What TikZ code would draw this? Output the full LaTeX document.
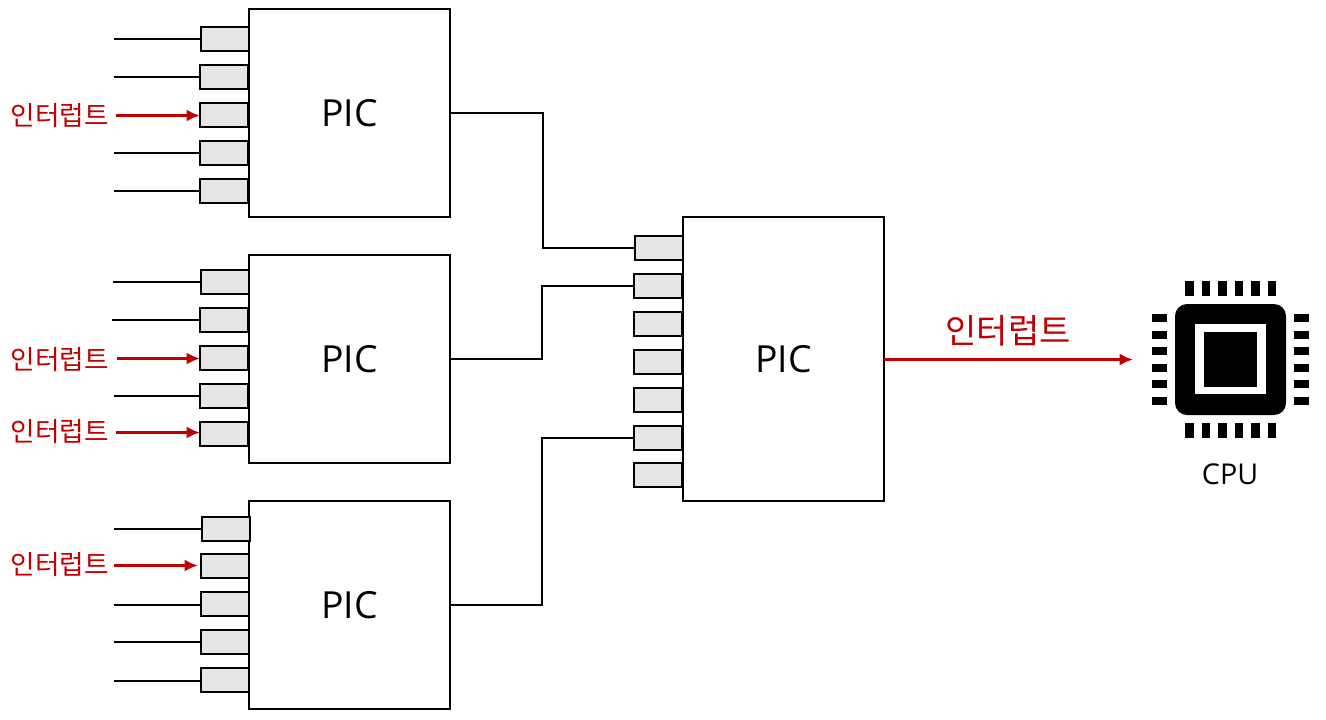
\documentclass[tikz,border=0pt]{standalone}
\usepackage{fontspec}
\setmainfont{Open Sans}
\newfontfamily\krfont{Noto Sans CJK KR}
\usepackage{xcolor}
\usetikzlibrary{arrows.meta}
\definecolor{intred}{HTML}{C00000}
\definecolor{pingray}{HTML}{E6E6E6}
\tikzset{
    picbox/.style={draw, line width=1.1pt, fill=white, minimum width=150.75pt, inner sep=0pt, outer sep=0pt, font=\fontsize{28}{32}\selectfont},
    pinbox/.style={draw, line width=1.1pt, fill=pingray, minimum width=36pt, minimum height=18pt, inner sep=0pt, outer sep=0pt},
    wire/.style={line width=1.1pt},
    intarrow/.style={intred, line width=2.2pt, -{Latex[length=10pt,width=9pt]}},
    intlabel/.style={text=intred, inner sep=0pt, font=\krfont\fontsize{20}{24}\selectfont},
}
\begin{document}
\begin{tikzpicture}[x=0.75pt, y=-0.75pt]
    \useasboundingbox (0,0) rectangle (1326,719);

    % Upper PIC
    \node[pinbox] (a1) at (225,39) {};
    \node[pinbox] (a2) at (224,77) {};
    \node[pinbox] (a3) at (224,115) {};
    \node[pinbox] (a4) at (224,153) {};
    \node[pinbox] (a5) at (224,191) {};
    \node[picbox, minimum height=156pt] (pica) at (349.5,113) {PIC};

    % Middle PIC
    \node[pinbox] (b1) at (225,282) {};
    \node[pinbox] (b2) at (224,320) {};
    \node[pinbox] (b3) at (224,358) {};
    \node[pinbox] (b4) at (224,396) {};
    \node[pinbox] (b5) at (224,434) {};
    \node[picbox, minimum height=156pt] (picb) at (349.5,359) {PIC};

    % Lower PIC
    \node[picbox, minimum height=156pt] (picc) at (349.5,605) {PIC};
    \node[pinbox] (c1) at (226,529) {};
    \node[pinbox] (c2) at (225,566) {};
    \node[pinbox] (c3) at (225,604) {};
    \node[pinbox] (c4) at (225,642) {};
    \node[pinbox] (c5) at (225,680) {};

    % Master PIC
    \node[pinbox] (m1) at (659,248) {};
    \node[pinbox] (m2) at (658,286) {};
    \node[pinbox] (m3) at (658,324) {};
    \node[pinbox] (m4) at (658,362) {};
    \node[pinbox] (m5) at (658,400) {};
    \node[pinbox] (m6) at (658,438) {};
    \node[pinbox] (m7) at (658,475) {};
    \node[picbox, minimum height=213pt] (master) at (783.5,359) {PIC};

    % Free ends of the input lines
    \coordinate (a1in) at (114,39);
    \coordinate (a2in) at (114,77);
    \coordinate (a3in) at (116,115.5);
    \coordinate (a4in) at (114,153);
    \coordinate (a5in) at (114,191);
    \coordinate (b1in) at (113,282);
    \coordinate (b2in) at (112,320);
    \coordinate (b3in) at (117,358.5);
    \coordinate (b4in) at (114,396);
    \coordinate (b5in) at (116,432.5);
    \coordinate (c1in) at (114,529);
    \coordinate (c2in) at (114,565.5);
    \coordinate (c2end) at (198,565.5);
    \coordinate (c3in) at (114,605);
    \coordinate (c4in) at (114,642);
    \coordinate (c5in) at (114,681);

    \draw[wire] (a1in)--(a1.west);
    \draw[wire] (a2in)--(a2.west);
    \draw[wire] (a4in)--(a4.west);
    \draw[wire] (a5in)--(a5.west);
    \draw[wire] (b1in)--(b1.west);
    \draw[wire] (b2in)--(b2.west);
    \draw[wire] (b4in)--(b4.west);
    \draw[wire] (c1in)--(c1.west);
    \draw[wire] (c3in)--(c3.west |- c3in);
    \draw[wire] (c4in)--(c4.west);
    \draw[wire] (c5in)--(c5.west |- c5in);

    % Interrupt inputs
    \draw[intarrow] (a3in)--(a3.west |- a3in);
    \draw[intarrow] (b3in)--(b3.west |- b3in);
    \draw[intarrow] (b5in)--(b5.west |- b5in);
    \draw[intarrow] (c2in)--(c2end);
    \node[intlabel] (la) at (60,115.5) {인터럽트};
    \node[intlabel] (lb) at (60,359.5) {인터럽트};
    \node[intlabel] (lc) at (60,431.5) {인터럽트};
    \node[intlabel] (ld) at (60,564.5) {인터럽트};

    % Cascade to master
    \coordinate (benda) at (543,180);
    \coordinate (bendb) at (542,320);
    \coordinate (bendc) at (542,520);
    \draw[wire] (pica.east) -| (benda) |- (m1.west);
    \draw[wire] (picb.east) -| (bendb) |- (m2.west);
    \draw[wire] (picc.east) -| (bendc) |- (m6.west);

    % CPU icon
    \fill[rounded corners=9pt] (1175,304) rectangle (1286,415);
    \fill[white] (1195,324) rectangle (1266,394);
    \fill (1204,332) rectangle (1257,387);
    \foreach \i in {0,...,5} {
        \fill ({1185+16.5*\i},281) rectangle ({1193.5+16.5*\i},296);
        \fill ({1185+16.5*\i},423) rectangle ({1193.5+16.5*\i},437.5);
        \fill (1152,{314+16.5*\i}) rectangle (1167,{322+16.5*\i});
        \fill (1294,{314+16.5*\i}) rectangle (1308.5,{322+16.5*\i});
    }
    \node[inner sep=0pt, font=\fontsize{21.5}{26}\selectfont] (cpu) at (1230,474) {CPU};

    % Output to CPU
    \coordinate (cpuin) at (1133,359.5);
    \draw[intarrow] (master.east |- cpuin)--(cpuin);
    \node[intlabel, font=\krfont\fontsize{25.5}{30}\selectfont] (lout) at (1008,331) {인터럽트};
\end{tikzpicture}
\end{document}
